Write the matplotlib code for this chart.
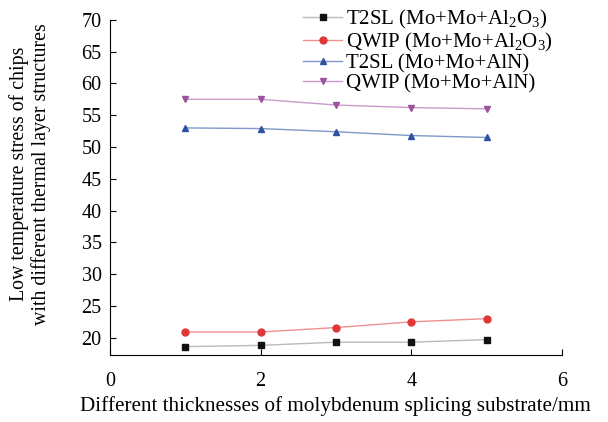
import matplotlib
matplotlib.use("Agg")
import matplotlib.pyplot as plt

thickness = [1, 2, 3, 4, 5]
t2sl_al2o3 = [18.6, 18.8, 19.3, 19.3, 19.7]
qwip_al2o3 = [20.9, 20.9, 21.6, 22.5, 23.0]
t2sl_aln = [53.0, 52.9, 52.4, 51.8, 51.5]
qwip_aln = [57.5, 57.5, 56.6, 56.2, 56.0]

labels = [
    r"T2SL (Mo+Mo+Al$_2$O$_3$)",
    r"QWIP (Mo+Mo+Al$_2$O$_3$)",
    "T2SL (Mo+Mo+AlN)",
    "QWIP (Mo+Mo+AlN)",
]

plt.rcParams["font.family"] = "Liberation Serif"
plt.rcParams["mathtext.fontset"] = "custom"
plt.rcParams["mathtext.rm"] = "Liberation Serif"
plt.rcParams["mathtext.it"] = "Liberation Serif"

fig = plt.figure(figsize=(6.08, 4.22), dpi=100)
ax = fig.add_axes([0.181, 0.159, 0.743, 0.794])

styles = [
    (t2sl_al2o3, "s", "#111111", "#bbbbbb"),
    (qwip_al2o3, "o", "#e0383a", "#f09090"),
    (t2sl_aln, "^", "#2c52a0", "#7f98c8"),
    (qwip_aln, "v", "#9a559e", "#c89ccb"),
]
for (vals, mk, mc, lc), lab in zip(styles, labels):
    ax.plot(thickness, vals, color=lc, linewidth=1.0, marker=mk,
            markersize=5, markerfacecolor=mc, markeredgecolor=mc, label=lab)

ax.set_xlim(0, 6)
ax.set_ylim(17.3, 70)
ax.set_xticks([0, 2, 4, 6])
ax.set_yticks(range(20, 71, 5))
ax.tick_params(direction="in", labelsize=14.5, length=4)
ax.tick_params(axis="x", pad=12)
ax.tick_params(axis="y", pad=6)
for s in ["top", "right"]:
    ax.spines[s].set_visible(False)

ax.set_xlabel("Different thicknesses of molybdenum splicing substrate/mm",
              fontsize=15.2, labelpad=4)
ax.set_ylabel("Low temperature stress of chips\nwith different thermal layer structures",
              fontsize=14.3, linespacing=1.15)
ax.yaxis.set_label_coords(-0.13, 0.54)

ax.legend(loc="upper right", bbox_to_anchor=(0.998, 1.06), frameon=False,
          fontsize=15, handlelength=1.9, handletextpad=0.15,
          labelspacing=0.0, borderaxespad=0)

fig.savefig("out.png", dpi=100)
